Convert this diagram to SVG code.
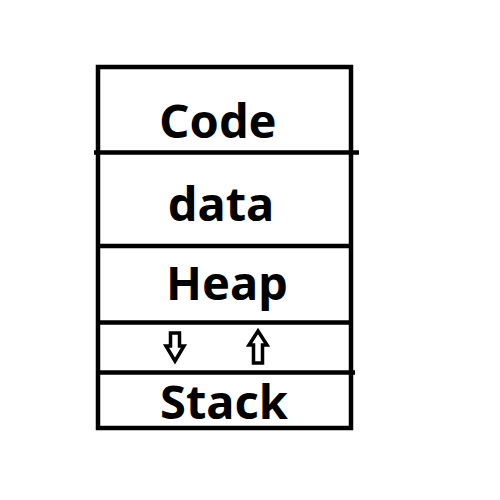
<svg xmlns="http://www.w3.org/2000/svg" width="500" height="500" viewBox="0 0 500 500">
<style>
.box{fill:none;stroke:#000;stroke-width:4.5}
.ln{stroke:#000;stroke-width:4.5}
.lbl{font-family:"Noto Sans","Open Sans",sans-serif;font-weight:bold;font-size:47px;fill:#000;text-anchor:middle}
.arr{fill:#fff;stroke:#000;stroke-width:3.5;stroke-linejoin:miter}
</style>
<rect width="500" height="500" fill="#fff"/>
<g id="memory">
<rect class="box" x="98" y="67" width="253" height="361"/>
</g>
<g id="connectors">
<line class="ln" x1="94" y1="152.5" x2="359" y2="152.5"/>
<line class="ln" x1="98" y1="246" x2="351" y2="246"/>
<line class="ln" x1="98" y1="322.5" x2="351" y2="322.5"/>
<line class="ln" x1="98" y1="372.5" x2="355" y2="372.5"/>
</g>
<g id="code"><text class="lbl" x="218" y="138">Code</text></g>
<g id="data"><text class="lbl" x="221" y="221">data</text></g>
<g id="heap"><text class="lbl" x="227" y="300">Heap</text></g>
<g id="stack"><text class="lbl" x="224" y="419">Stack</text></g>
<g id="down-arrow"><polygon class="arr" points="170.5,333 179.5,333 179.5,346 184,346 175,361 166,346 170.5,346"/></g>
<g id="up-arrow"><polygon class="arr" points="253.5,363 262.5,363 262.5,345 267,345 258,331 249,345 253.5,345"/></g>
</svg>
